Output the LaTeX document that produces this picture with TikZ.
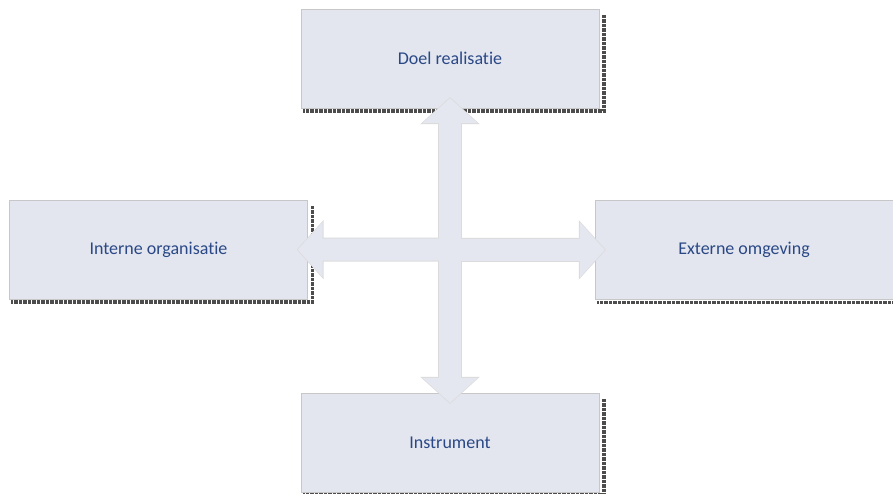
\documentclass[tikz,border=0pt]{standalone}
\usepackage{fontspec}
\setmainfont{Carlito}[Ligatures=NoCommon]
\usetikzlibrary{arrows.meta}
\definecolor{vakgrijs}{HTML}{E3E6EF}
\definecolor{pijlgrijs}{HTML}{E5E7F0}
\definecolor{tekstblauw}{HTML}{2A4886}
\begin{document}
\begin{tikzpicture}[x=1pt,y=-1pt,
  vak/.style={rectangle,fill=vakgrijs,draw=black!22,line width=0.4pt,minimum width=298pt,minimum height=99pt,text=tekstblauw,font=\fontsize{18}{20}\selectfont},
  schaduw/.style={draw=black!70,line width=3.5pt,densely dotted},
  pijlrand/.style={line width=24pt,draw=black!14,{Triangle[length=27pt,width=58pt]}-{Triangle[length=27pt,width=58pt]},shorten <=-11pt,shorten >=-11pt},
  pijl/.style={line width=22pt,draw=pijlgrijs,{Triangle[length=25pt,width=54pt]}-{Triangle[length=25pt,width=54pt]},shorten <=-10pt,shorten >=-10pt}]
\useasboundingbox (0,0) rectangle (893,494);

\node[vak] (doel) at (450,58.5)           {Doel realisatie};
\node[vak] (intern) at (158.5,249.5)      {Interne organisatie};
\node[vak] (extern) at (744,250)          {Externe omgeving};
\node[vak] (instrument) at (450,442.5)    {Instrument};

% schaduw rechts en onder
\draw[schaduw] ([shift={(5,6)}]doel.north east) |- ([shift={(2,3)}]doel.south west);
\draw[schaduw] ([shift={(5,6)}]intern.north east) |- ([shift={(2,3)}]intern.south west);
\draw[schaduw] ([shift={(5,6)}]extern.north east) |- ([shift={(2,3)}]extern.south west);
\draw[schaduw] ([shift={(5,6)}]instrument.north east) |- ([shift={(2,3)}]instrument.south west);

\draw[pijlrand] (doel) -- (instrument);
\draw[pijlrand] (intern) -- (extern);
\draw[pijl] (doel) -- (instrument);
\draw[pijl] (intern) -- (extern);

\end{tikzpicture}
\end{document}
